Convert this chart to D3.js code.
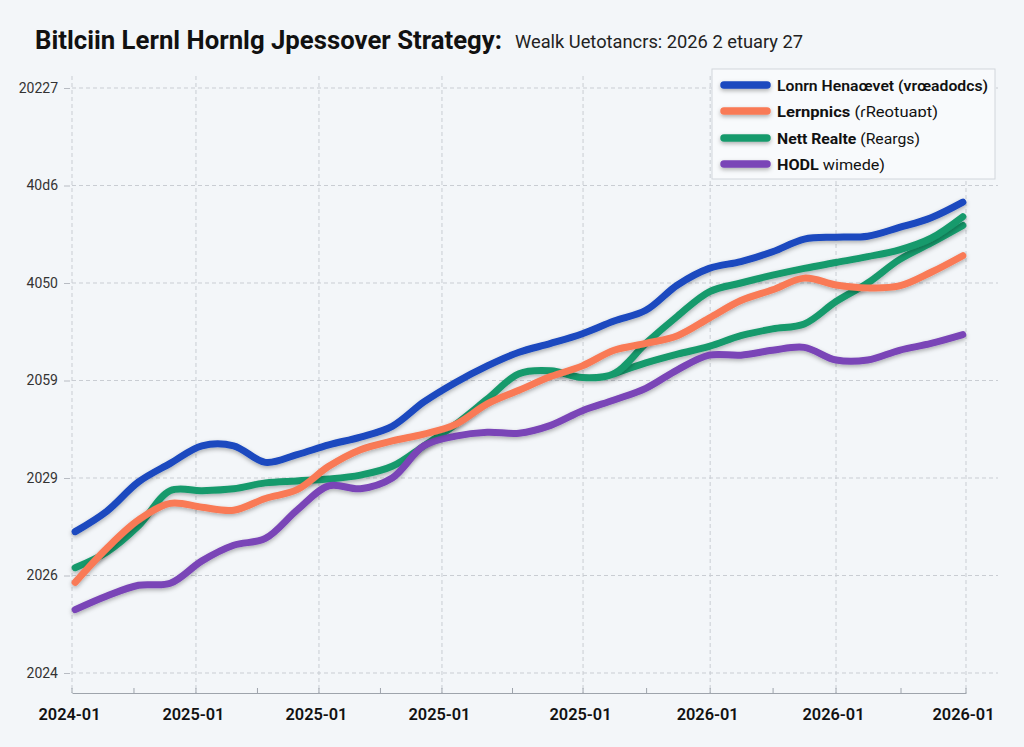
<!DOCTYPE html>
<html><head><meta charset="utf-8">
<script src="https://cdn.jsdelivr.net/npm/d3@7"></script>
<style>
html,body{margin:0;padding:0;background:#f3f6f9;}
svg{display:block;font-family:Roboto,"Liberation Sans",Arial,sans-serif;}
</style></head>
<body><svg id="chart" width="1024" height="747"></svg>
<script>
// ---- data ----
const steps = d3.range(0, 29); // sample index along the time axis
const longHorizon = [1.45,1.66,1.96,2.15,2.33,2.33,2.16,2.24,2.34,2.42,2.53,2.78,2.98,3.15,3.29,3.38,3.48,3.61,3.72,3.98,4.15,4.22,4.32,4.45,4.47,4.48,4.57,4.67,4.83];
const lernpnics   = [0.93,1.28,1.57,1.74,1.70,1.67,1.79,1.88,2.12,2.29,2.38,2.45,2.55,2.76,2.90,3.04,3.15,3.31,3.38,3.46,3.64,3.82,3.93,4.05,3.98,3.95,3.97,4.11,4.28];
const nettRealte  = [1.08,1.24,1.51,1.87,1.87,1.89,1.95,1.97,1.99,2.03,2.12,2.33,2.55,2.81,3.07,3.10,3.03,3.07,3.38,3.66,3.91,4.00,4.08,4.15,4.21,4.27,4.34,4.46,4.68];
const nettRealteBranchStart = 17;
const nettRealteBranch = [3.07,3.18,3.27,3.35,3.46,3.53,3.58,3.81,4.00,4.24,4.41,4.59];
const hodl        = [0.65,0.79,0.90,0.92,1.15,1.31,1.38,1.67,1.92,1.89,2.00,2.33,2.43,2.47,2.46,2.54,2.69,2.80,2.92,3.11,3.26,3.26,3.31,3.34,3.21,3.21,3.31,3.38,3.47];

const xTickPos    = [-0.1, 3.81, 7.69, 11.57, 16.02, 20.03, 24.0, 28.1];
const xTickLabels = ["2024-01","2025-01","2025-01","2025-01","2025-01","2026-01","2026-01","2026-01"];
const yTickVals   = [0,1,2,3,4,5,6];
const yTickLabels = ["2024","2026","2029","2059","4050","40d6","20227"];

const seriesNames = ["Lonrn Henaœvet", "Lernpnics", "Nett Realte", "HODL"];
const seriesNotes = [" (vrœadodcs)", " (ɾReotuaɒt)", " (Reargs)", " wimede)"];
const colors = ["#1a48bf", "#f97a56", "#189a6c", "#7a45b7"];

const title = "Bitlciin Lernl Hornlg Jpessover Strategy:";
const subtitle = "Wealk Uetotancrs: 2026 2 etuary 27";

// ---- layout ----
const svg = d3.select("#chart");
const L = 72, R = 966, T = 88, B = 693;
const x = d3.scaleLinear().domain([-0.1, 28.1]).range([L, R]);
const y = d3.scaleLinear().domain([0, 6]).range([673, 88]);

const defs = svg.append("defs");
const f = defs.append("filter").attr("id","sh").attr("filterUnits","userSpaceOnUse")
  .attr("x",0).attr("y",0).attr("width",1024).attr("height",747);
f.append("feDropShadow").attr("dx",0).attr("dy",2).attr("stdDeviation",2.2).attr("flood-opacity",0.3);

svg.append("rect").attr("width",1024).attr("height",747).attr("fill","#f3f6f9");

// title
svg.append("text").attr("x",35).attr("y",49).attr("font-size",25).attr("font-weight",700)
  .attr("fill","#111").attr("textLength",467).attr("lengthAdjust","spacingAndGlyphs").text(title);
svg.append("text").attr("x",515).attr("y",48).attr("font-size",19).attr("fill","#222")
  .attr("textLength",288).attr("lengthAdjust","spacingAndGlyphs").text(subtitle);

// horizontal grid
const g = svg.append("g");
g.selectAll("line.hg").data(yTickVals).join("line")
  .attr("x1",L).attr("x2",998).attr("y1",d=>y(d)).attr("y2",d=>y(d))
  .attr("stroke","#c9cdd3").attr("stroke-width",1).attr("stroke-dasharray","4,3");
// vertical grid
g.selectAll("line.vg").data(xTickPos).join("line")
  .attr("x1",d=>x(d)).attr("x2",d=>x(d)).attr("y1",76).attr("y2",B)
  .attr("stroke","#c9cdd3").attr("stroke-width",1).attr("stroke-dasharray","4,3");

// y axis labels + ticks
const yAxis = d3.axisLeft(y).tickValues(yTickVals).tickFormat((d,i)=>yTickLabels[i]).tickSize(6).tickPadding(6);
const ya = svg.append("g").attr("transform",`translate(${L-2},0)`).call(yAxis);
ya.select(".domain").remove();
ya.selectAll(".tick line").attr("stroke","#b8bcc3");
ya.selectAll(".tick text").attr("font-size",14).attr("fill","#333").attr("font-family","Roboto, sans-serif");

// x axis
const xAxis = d3.axisBottom(x).tickValues(xTickPos).tickFormat((d,i)=>xTickLabels[i]).tickSize(0).tickPadding(16);
const xa = svg.append("g").attr("transform",`translate(0,${B})`).call(xAxis);
xa.select(".domain").attr("stroke","#9ea4ac").attr("stroke-width",1.2);
xa.selectAll(".tick text").attr("font-size",16).attr("font-weight",600).attr("fill","#111")
  .attr("dx",-3).attr("font-family","Roboto, sans-serif")
  .attr("textLength",62).attr("lengthAdjust","spacingAndGlyphs");
// minor ticks (upward)
const minor = d3.pairs(xTickPos).map(p=>(p[0]+p[1])/2);
svg.append("g").selectAll("line").data(minor.concat(xTickPos)).join("line")
  .attr("x1",d=>x(d)).attr("x2",d=>x(d)).attr("y1",B-5).attr("y2",B)
  .attr("stroke","#9ea4ac").attr("stroke-width",1);

// lines
const line = d3.line().x(d=>x(d[0])).y(d=>y(d[1])).curve(d3.curveCatmullRom.alpha(0.5));
const mk = arr => arr.map((v,i)=>[steps[i], v]);
const branch = nettRealteBranch.map((v,i)=>[steps[nettRealteBranchStart+i], v]);
const draws = [
  {d: branch, c: colors[2]},
  {d: mk(nettRealte), c: colors[2]},
  {d: mk(hodl), c: colors[3]},
  {d: mk(lernpnics), c: colors[1]},
  {d: mk(longHorizon), c: colors[0]}
];
svg.append("g").selectAll("path").data(draws).join("path")
  .attr("d",d=>line(d.d)).attr("fill","none").attr("stroke",d=>d.c)
  .attr("stroke-width",7).attr("stroke-linecap","round").attr("stroke-linejoin","round")
  .attr("filter","url(#sh)");

// legend
const lg = svg.append("g");
lg.append("rect").attr("x",712).attr("y",69).attr("width",283).attr("height",110)
  .attr("fill","#f8fafc").attr("stroke","#d2d6dc").attr("stroke-width",1);
const rowY = [85,111,138,164];
const rowW = [211,161,143,108];
seriesNames.forEach((n,i)=>{
  lg.append("line").attr("x1",724).attr("x2",767).attr("y1",rowY[i]).attr("y2",rowY[i])
    .attr("stroke",colors[i]).attr("stroke-width",7.5).attr("stroke-linecap","round").attr("filter","url(#sh)");
  const t = lg.append("text").attr("x",777).attr("y",rowY[i]+5.5).attr("font-size",15.5).attr("fill","#111")
    .attr("textLength",rowW[i]).attr("lengthAdjust","spacingAndGlyphs");
  t.append("tspan").attr("font-weight",i===0?600:700).text(n);
  t.append("tspan").attr("font-weight",i===0?600:400).text(seriesNotes[i]);
});
</script></body></html>
